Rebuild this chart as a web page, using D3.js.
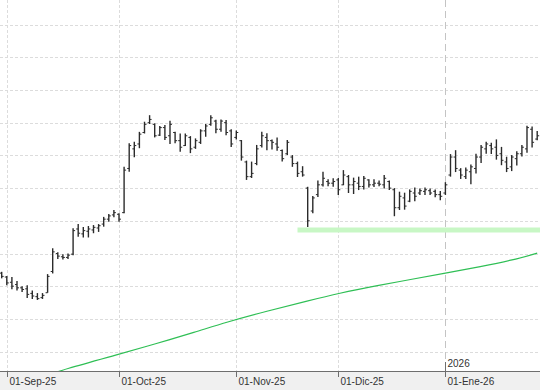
<!DOCTYPE html>
<html>
<head>
<meta charset="utf-8">
<style>
  body { margin: 0; background: #fff; }
  svg { display: block; font-family: "Liberation Sans", Arial, sans-serif; }
</style>
</head>
<body>
<script src="https://cdn.jsdelivr.net/npm/d3@7"></script>
<script>
// daily bars, 29-Aug-25 .. 28-Ene-26 (trading days)
var opens  = [22.40,22.28,22.12,22.05,21.95,21.92,21.78,21.68,21.65,21.80,22.45,23.00,22.90,22.88,22.98,23.75,23.60,23.68,23.72,23.78,
              23.90,24.05,24.18,24.20,24.25,25.60,26.20,26.35,26.70,27.00,26.95,26.62,26.85,26.60,26.70,26.45,26.30,26.55,26.25,26.40,
              26.75,26.95,27.05,26.80,27.00,26.75,26.55,26.45,25.80,25.35,25.75,26.30,26.55,26.45,26.35,26.15,26.05,25.95,25.75,25.50,
              25.00,24.30,24.80,25.10,25.20,25.15,25.25,25.10,25.35,25.10,25.15,25.05,25.25,25.10,25.15,25.10,25.20,24.95,24.40,24.70,
              24.60,24.85,24.85,24.90,24.92,24.90,24.80,24.85,25.40,25.95,25.55,25.35,25.50,25.60,25.95,26.20,26.30,26.25,26.05,25.80,
              25.65,25.90,26.05,26.20,26.80,26.50];
var highs  = [22.44,22.31,22.28,22.16,22.00,22.03,21.87,21.79,21.79,22.37,23.16,23.04,22.98,23.00,23.77,23.90,23.81,23.84,23.87,23.90,
              24.12,24.21,24.33,24.23,25.65,26.37,26.42,26.72,27.03,27.23,26.98,26.90,26.93,27.06,26.72,26.67,26.67,26.59,26.52,26.80,
              26.96,27.23,27.09,27.10,27.08,26.80,26.76,26.47,25.84,25.81,26.32,26.72,26.68,26.49,26.55,26.18,26.47,26.01,25.81,25.67,
              25.04,24.76,25.23,25.50,25.27,25.30,25.31,25.55,25.40,25.32,25.35,25.37,25.27,25.27,25.23,25.40,25.23,25.00,24.89,24.86,
              24.96,25.02,24.99,25.02,24.99,24.96,24.91,25.18,26.04,26.16,25.61,25.63,25.72,26.05,26.32,26.42,26.39,26.49,26.26,25.96,
              26.01,26.13,26.32,26.91,26.88,26.75];
var lows   = [22.24,22.03,21.91,21.87,21.82,21.64,21.61,21.58,21.61,21.80,22.39,22.83,22.82,22.83,22.95,23.51,23.49,23.49,23.62,23.66,
              23.82,23.97,24.11,23.97,24.23,25.50,25.94,26.22,26.67,26.96,26.55,26.59,26.47,26.35,26.37,26.11,26.29,26.07,26.20,26.35,
              26.57,26.91,26.68,26.72,26.62,26.26,26.49,25.84,25.25,25.31,25.70,26.24,26.16,26.18,26.14,25.81,26.01,25.65,25.34,25.35,
              23.81,24.23,24.73,25.05,25.06,25.04,24.79,25.09,24.85,24.82,24.94,24.96,25.02,25.03,25.06,24.99,24.94,24.14,24.33,24.34,
              24.57,24.60,24.79,24.79,24.79,24.72,24.63,24.79,25.35,25.49,25.28,25.28,25.12,25.45,25.77,26.05,26.04,25.87,25.70,25.49,
              25.52,25.69,25.97,26.08,26.24,26.46];
var closes = [22.30,22.10,22.00,21.95,21.90,21.75,21.70,21.62,21.72,22.30,23.05,22.92,22.88,22.95,23.70,23.62,23.70,23.75,23.80,23.85,
              24.05,24.15,24.25,24.05,25.55,26.30,26.30,26.65,26.95,27.10,26.60,26.85,26.55,26.95,26.45,26.25,26.60,26.20,26.45,26.75,
              26.90,27.15,26.80,27.05,26.70,26.35,26.70,25.95,25.35,25.45,26.20,26.60,26.45,26.40,26.25,25.90,26.40,25.75,25.45,25.40,
              24.00,24.70,25.10,25.30,25.15,25.20,24.95,25.40,25.10,25.20,25.05,25.30,25.10,25.15,25.12,25.30,25.00,24.40,24.75,24.45,
              24.90,24.75,24.92,24.95,24.85,24.80,24.75,25.10,25.95,25.60,25.40,25.55,25.65,25.95,26.25,26.35,26.20,26.00,25.85,25.60,
              25.95,26.05,26.25,26.85,26.40,26.60];

// long moving average, read at some bars (bar index -> value)
var maIndex = [8, 12, 23, 30, 38, 44, 52, 60, 66, 74, 80, 87, 94, 100, 105];
var maValue = [19.22,19.45,19.92,20.23,20.60,20.90,21.24,21.55,21.78,22.03,22.20,22.40,22.60,22.79,23.01];

// support level drawn from bar 58 to the right edge
var supportLevel = 23.72;
var supportFrom = 58;

var gridValues = [20,21,22,23,24,25,26,27,28,29,30];
var monthNames = ["Ene","Feb","Mar","Abr","May","Jun","Jul","Ago","Sep","Oct","Nov","Dic"];
var holidays = ["2025-12-25","2025-12-26","2026-01-01"];

var W = 540, H = 390, axisY = 371;

// trading calendar
var fmt = d3.utcFormat("%Y-%m-%d");
var days = [];
var d = new Date(Date.UTC(2025, 7, 29));
while (days.length < closes.length) {
  var wd = d.getUTCDay();
  if (wd != 0 && wd != 6 && holidays.indexOf(fmt(d)) < 0) days.push(d);
  d = d3.utcDay.offset(d, 1);
}

var x = d3.scaleLinear().domain([-0.333, 105.55]).range([0, W]);
var y = d3.scaleLinear().domain([20, 30]).range([351.6, 24.6]);

var svg = d3.select("body").append("svg")
  .attr("width", W).attr("height", H);

svg.append("defs").append("clipPath").attr("id", "plot")
  .append("rect").attr("x", 0).attr("y", 0).attr("width", W).attr("height", axisY);

// month starts
var monthIdx = [];
days.forEach(function(day, i) {
  if (i > 0 && day.getUTCMonth() != days[i-1].getUTCMonth()) monthIdx.push(i);
});

var grid = svg.append("g").attr("clip-path", "url(#plot)");
grid.selectAll(".hg").data(gridValues).enter().append("line")
  .attr("x1", 0).attr("x2", W)
  .attr("y1", function(v){ return Math.round(y(v)) + 0.5; })
  .attr("y2", function(v){ return Math.round(y(v)) + 0.5; })
  .attr("stroke", "#dcdcdc").attr("stroke-dasharray", "3,2");

grid.selectAll(".vg").data(monthIdx).enter().append("line")
  .attr("x1", function(i){ return Math.round(x(i)) + 0.5; })
  .attr("x2", function(i){ return Math.round(x(i)) + 0.5; })
  .attr("y1", 0).attr("y2", axisY)
  .attr("stroke", function(i){ return days[i].getUTCMonth() == 0 ? "#c4c4c4" : "#dcdcdc"; })
  .attr("stroke-dasharray", function(i){ return days[i].getUTCMonth() == 0 ? "7,4" : "3,2"; });

var plot = svg.append("g").attr("clip-path", "url(#plot)");

// moving average
var ma = maIndex.map(function(k, j){ return [k, maValue[j]]; });
plot.append("path")
  .datum(ma)
  .attr("fill", "none")
  .attr("stroke", "#2fbf55")
  .attr("stroke-width", 1.2)
  .attr("d", d3.line().x(function(p){ return x(p[0]); }).y(function(p){ return y(p[1]); }).curve(d3.curveBasis));

// support
plot.append("line")
  .attr("x1", x(supportFrom)).attr("x2", W)
  .attr("y1", y(supportLevel)).attr("y2", y(supportLevel))
  .attr("stroke", "#c8f7c5").attr("stroke-width", 5);

// OHLC bars
var bars = plot.selectAll(".bar").data(closes).enter().append("g")
  .attr("stroke", "#2b2b2b").attr("stroke-width", 1.4);
bars.append("line")
  .attr("x1", function(c, i){ return x(i); }).attr("x2", function(c, i){ return x(i); })
  .attr("y1", function(c, i){ return y(highs[i]); }).attr("y2", function(c, i){ return y(lows[i]); });
bars.append("line")
  .attr("x1", function(c, i){ return x(i) - 2; }).attr("x2", function(c, i){ return x(i); })
  .attr("y1", function(c, i){ return y(opens[i]); }).attr("y2", function(c, i){ return y(opens[i]); })
  .attr("stroke-width", 1);
bars.append("line")
  .attr("x1", function(c, i){ return x(i); }).attr("x2", function(c, i){ return x(i) + 2; })
  .attr("y1", function(c, i){ return y(c); }).attr("y2", function(c, i){ return y(c); })
  .attr("stroke-width", 1);

// x axis band
svg.append("rect").attr("x", 0).attr("y", axisY).attr("width", W).attr("height", H - axisY)
  .attr("fill", "#f0f0f0");
svg.append("line").attr("x1", 0).attr("x2", W).attr("y1", axisY + 0.5).attr("y2", axisY + 0.5)
  .attr("stroke", "#6e6e6e");

var ticks = svg.selectAll(".tick").data(monthIdx).enter().append("g")
  .attr("transform", function(i){ return "translate(" + (Math.round(x(i)) + 0.5) + ",0)"; });
ticks.append("line")
  .attr("y1", axisY).attr("y2", axisY + 6)
  .attr("stroke", "#6e6e6e");
ticks.append("text")
  .attr("x", 2).attr("y", axisY + 14)
  .attr("font-size", "10px").attr("fill", "#333")
  .text(function(i){
    var day = days[i];
    return "01-" + monthNames[day.getUTCMonth()] + "-" + String(day.getUTCFullYear()).slice(2);
  });

// year marker
var yearIdx = monthIdx.filter(function(i){ return days[i].getUTCMonth() == 0; });
var years = svg.selectAll(".yr").data(yearIdx).enter().append("g")
  .attr("transform", function(i){ return "translate(" + (Math.round(x(i)) + 0.5) + ",0)"; });
years.append("line").attr("y1", axisY - 9).attr("y2", axisY).attr("stroke", "#6e6e6e");
years.append("text").attr("x", 2).attr("y", axisY - 4)
  .attr("font-size", "10px").attr("fill", "#333")
  .text(function(i){ return days[i].getUTCFullYear(); });
</script>
</body>
</html>
